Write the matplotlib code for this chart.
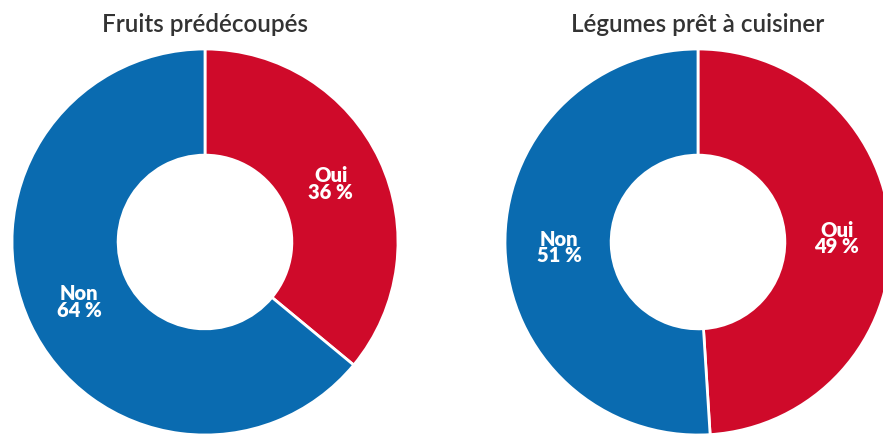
import numpy as np
import matplotlib.pyplot as plt

# data
titles = ['Fruits prédécoupés', 'Légumes prêt à cuisiner']
labels = ['Oui', 'Non']
oui = [36, 49]
non = [64, 51]
colors = ['#cf0a2a', '#0a6bb0']

W, H = 883, 435
fig = plt.figure(figsize=(W / 100, H / 100), dpi=100)
fig.patch.set_facecolor('white')

R = 193          # outer radius in px
centers = [(205, 243), (698, 243)]

for i, (cx, cy) in enumerate(centers):
    ax = fig.add_axes([(cx - R) / W, (H - cy - R) / H, 2 * R / W, 2 * R / H])
    vals = [oui[i], non[i]]
    wedges, _ = ax.pie(vals, colors=colors, startangle=90, counterclock=False,
                       radius=1, wedgeprops=dict(width=0.55, edgecolor='white', linewidth=2))
    ax.set_xlim(-1, 1)
    ax.set_ylim(-1, 1)
    ax.set_aspect('equal')
    ax.axis('off')

    # labels in the middle of each ring segment
    for w, lab, v in zip(wedges, labels, vals):
        ang = np.deg2rad((w.theta1 + w.theta2) / 2)
        r = 0.72
        ax.text(r * np.cos(ang), r * np.sin(ang), f'{lab}\n{v} %',
                ha='center', va='center', color='white', fontsize=14.5,
                fontweight='heavy', family='Lato', linespacing=0.85)

    fig.text(cx / W, 1 - 25 / H, titles[i], ha='center', va='center',
             fontsize=17.5, color='#333333', family='Lato', fontweight='semibold')

fig.savefig('out.png', dpi=100, facecolor='white')
